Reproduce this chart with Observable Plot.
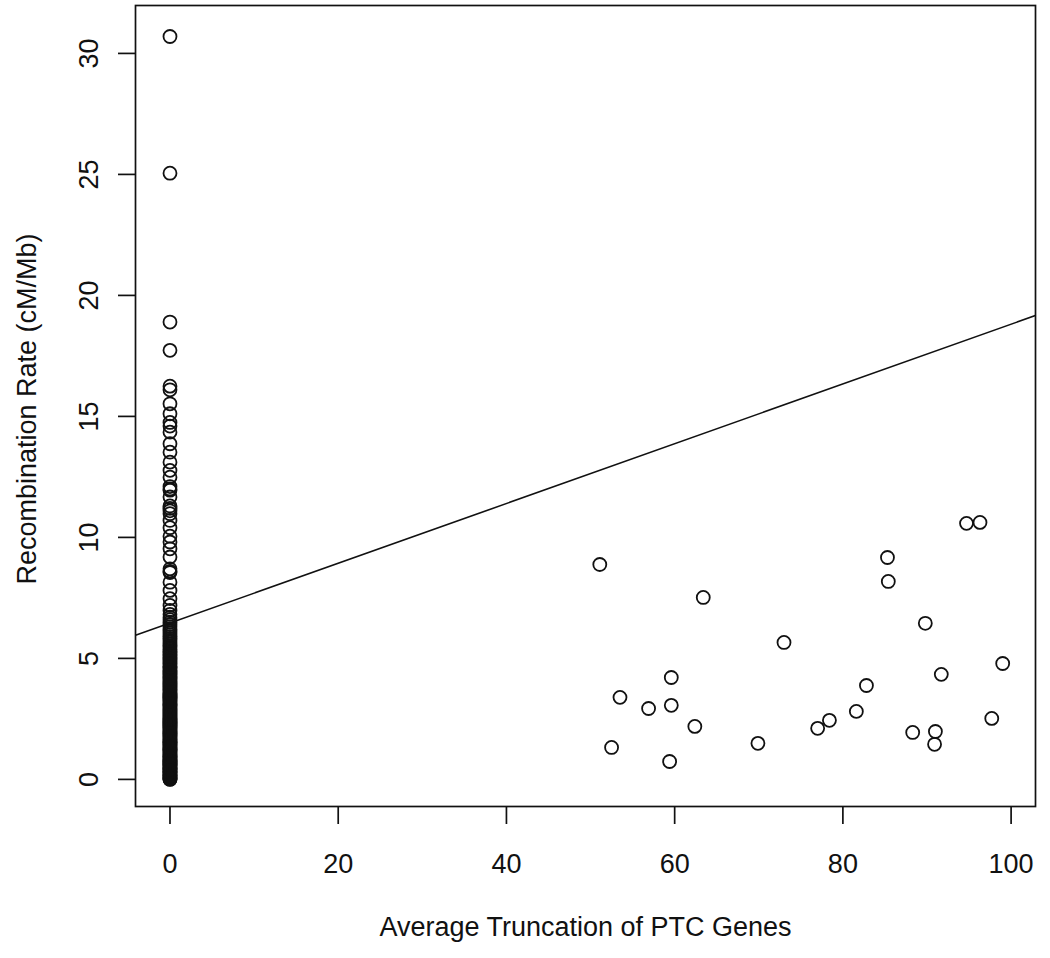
<!DOCTYPE html>
<html>
<head>
<meta charset="utf-8">
<script src="https://cdn.jsdelivr.net/npm/d3@7"></script>
<script src="https://cdn.jsdelivr.net/npm/@observablehq/plot@0.6"></script>
<style>
  html, body { margin: 0; padding: 0; background: white; }
</style>
</head>
<body>
<div id="chart"></div>
<script>
// Genes with no truncation (x = 0): recombination rates
const zeroTruncRates = [
  0.00, 0.01, 0.03, 0.06, 0.08, 0.12, 0.15, 0.17, 0.21, 0.24, 0.28, 0.31, 0.33, 0.37, 0.41, 0.44,
  0.46, 0.50, 0.53, 0.57, 0.60, 0.62, 0.66, 0.70, 0.73, 0.77, 0.80, 0.83, 0.86, 0.90, 0.94, 0.97,
  1.01, 1.04, 1.08, 1.12, 1.15, 1.19, 1.22, 1.26, 1.30, 1.33, 1.36, 1.41, 1.44, 1.48, 1.52, 1.55,
  1.59, 1.63, 1.66, 1.70, 1.74, 1.78, 1.81, 1.85, 1.89, 1.93, 1.96, 2.00, 2.04, 2.08, 2.12, 2.15,
  2.19, 2.23, 2.27, 2.31, 2.35, 2.38, 2.42, 2.47, 2.50, 2.54, 2.58, 2.62, 2.66, 2.70, 2.74, 2.79,
  2.83, 2.87, 2.91, 2.95, 3.00, 3.04, 3.08, 3.12, 3.16, 3.21, 3.25, 3.30, 3.34, 3.38, 3.43, 3.47,
  3.52, 3.56, 3.60, 3.65, 3.70, 3.74, 3.79, 3.83, 3.88, 3.93, 3.98, 4.02, 4.07, 4.12, 4.17, 4.22,
  4.27, 4.32, 4.37, 4.42, 4.47, 4.52, 4.58, 4.63, 4.68, 4.74, 4.80, 4.85, 4.90, 4.96, 5.02, 5.08,
  5.14, 5.20, 5.26, 5.32, 5.38, 5.45, 5.52, 5.60, 5.67, 5.74, 5.82, 5.90, 5.98, 6.06, 6.14, 6.22,
  6.31, 6.40, 6.50, 6.60, 6.70, 6.82, 6.98, 7.19, 7.47, 7.81, 8.15, 8.55, 8.60, 8.70, 9.19, 9.53,
  9.81, 10.05, 10.40, 10.70, 10.98, 11.10, 11.20, 11.30, 11.67, 11.95, 12.00, 12.10, 12.49, 12.77,
  13.11, 13.52, 13.87, 14.35, 14.60, 14.75, 15.11, 15.52, 16.10, 16.25, 17.73, 18.90, 25.05, 30.70
];

// Truncated genes: average truncation (x) and recombination rate (y)
const truncX = [51.1, 63.4, 73.0, 59.6, 53.5, 56.9, 59.6, 62.4, 52.5, 69.9, 59.4,
                94.7, 96.3, 85.3, 85.4, 89.8, 99.0, 91.7, 82.8, 81.6, 78.4, 77.0, 88.3, 91.0, 90.9, 97.7];
const truncY = [8.88, 7.52, 5.66, 4.21, 3.39, 2.93, 3.06, 2.19, 1.32, 1.49, 0.74,
                10.58, 10.62, 9.17, 8.18, 6.45, 4.79, 4.34, 3.88, 2.81, 2.44, 2.11, 1.94, 1.98, 1.45, 2.52];

// Fitted regression line
const fitIntercept = 6.46;
const fitSlope = 0.1235;

const xTicks = [0, 20, 40, 60, 80, 100];
const yTicks = [0, 5, 10, 15, 20, 25, 30];
const xDomain = [-4.1, 102.9];
const yDomain = [-1.12, 31.98];
const xTitle = "Average Truncation of PTC Genes";
const yTitle = "Recombination Rate (cM/Mb)";

const points = [
  ...zeroTruncRates.map(r => ({x: 0, y: r})),
  ...truncX.map((x, i) => ({x, y: truncY[i]}))
];
const fitLine = xDomain.map(x => ({x, y: fitIntercept + fitSlope * x}));

const ink = "#111";
const font = "'Liberation Sans', Arial, Helvetica, sans-serif";

const chart = Plot.plot({
  width: 1050,
  height: 958,
  marginLeft: 135,
  marginRight: 15,
  marginTop: 5,
  marginBottom: 152,
  style: {fontSize: "27px", fontFamily: font, background: "white", color: ink},
  x: {domain: xDomain, label: null},
  y: {domain: yDomain, label: null},
  marks: [
    Plot.frame({stroke: ink, strokeWidth: 1.7}),
    Plot.axisX(xTicks, {tickSize: 18, tickPadding: 29, strokeWidth: 1.7, label: null, fontSize: 27}),
    Plot.axisY(yTicks, {tickSize: 17, tickPadding: 21, strokeWidth: 1.7, label: null, tickRotate: -90,
      textAnchor: "middle", lineAnchor: "bottom", fontSize: 27}),
    Plot.line(fitLine, {x: "x", y: "y", stroke: ink, strokeWidth: 1.6, clip: true}),
    Plot.dot(points, {x: "x", y: "y", r: 6.5, stroke: ink, strokeWidth: 1.8, fill: "none"}),
    Plot.text([xTitle], {text: d => d, frameAnchor: "bottom", dy: 129, lineAnchor: "bottom", fontSize: 27}),
    Plot.text([yTitle], {text: d => d, frameAnchor: "left", dx: -100, dy: 3, rotate: -90,
      textAnchor: "middle", lineAnchor: "bottom", fontSize: 27})
  ]
});
document.getElementById("chart").appendChild(chart);
</script>
</body>
</html>
